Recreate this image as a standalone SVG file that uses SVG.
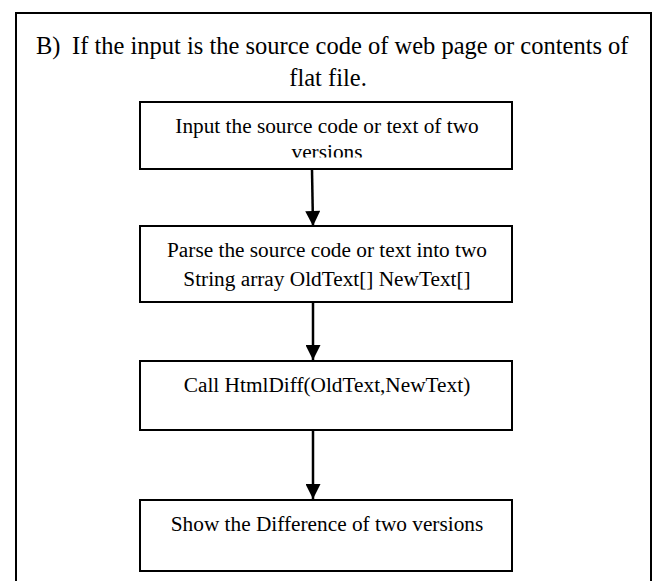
<svg xmlns="http://www.w3.org/2000/svg" width="654" height="581" viewBox="0 0 654 581">
  <defs>
    <marker id="arrow" markerWidth="17" markerHeight="15" refX="17" refY="8.5" orient="auto" markerUnits="userSpaceOnUse" viewBox="0 0 17 17">
      <path d="M0,0 L17,8.5 L0,17 Z" fill="#000"/>
    </marker>
    <!-- text area of the first box; its last line is cut at the bottom -->
    <clipPath id="inputClip">
      <rect x="140" y="102" width="372" height="55.5"/>
    </clipPath>
  </defs>
  <style>
    text { font-family: "Liberation Serif", "Times New Roman", serif; fill: #000; }
    .title { font-size: 24.5px; }
    .label { font-size: 21.3px; text-anchor: middle; }
    .box { fill: none; stroke: #000; stroke-width: 2; }
    .frame { fill: #fff; stroke: #000; stroke-width: 2; }
    .conn { stroke: #000; stroke-width: 2.5; fill: none; marker-end: url(#arrow); }
  </style>

  <rect width="654" height="581" fill="#fff"/>
  <!-- outer frame, open at the bottom -->
  <path class="frame" d="M16,590 L16,13 L651,13 L651,590"/>

  <g id="title">
    <text class="title" x="36" y="54">B)<tspan x="72">If the input is the source code of web page or contents of</tspan></text>
    <text class="title" x="328" y="86" text-anchor="middle">flat file.</text>
  </g>

  <g id="input">
    <g clip-path="url(#inputClip)">
      <text class="label" x="327" y="133">Input the source code or text of two</text>
      <text class="label" x="327" y="158.5">versions</text>
    </g>
    <rect class="box" x="140" y="102" width="372" height="67"/>
  </g>

  <g id="parse">
    <rect class="box" x="140" y="226" width="372" height="76"/>
    <text class="label" x="327" y="257">Parse the source code or text into two</text>
    <text class="label" x="327" y="286">String array OldText[] NewText[]</text>
  </g>

  <g id="call">
    <rect class="box" x="140" y="361" width="372" height="69"/>
    <text class="label" x="327" y="392">Call HtmlDiff(OldText,NewText)</text>
  </g>

  <g id="show">
    <rect class="box" x="140" y="500" width="372" height="71"/>
    <text class="label" x="327" y="531">Show the Difference of two versions</text>
  </g>

  <g id="connectors">
    <line class="conn" x1="312" y1="170" x2="313" y2="226"/>
    <line class="conn" x1="313" y1="303" x2="313" y2="360"/>
    <line class="conn" x1="313" y1="431" x2="313" y2="499"/>
  </g>
</svg>
